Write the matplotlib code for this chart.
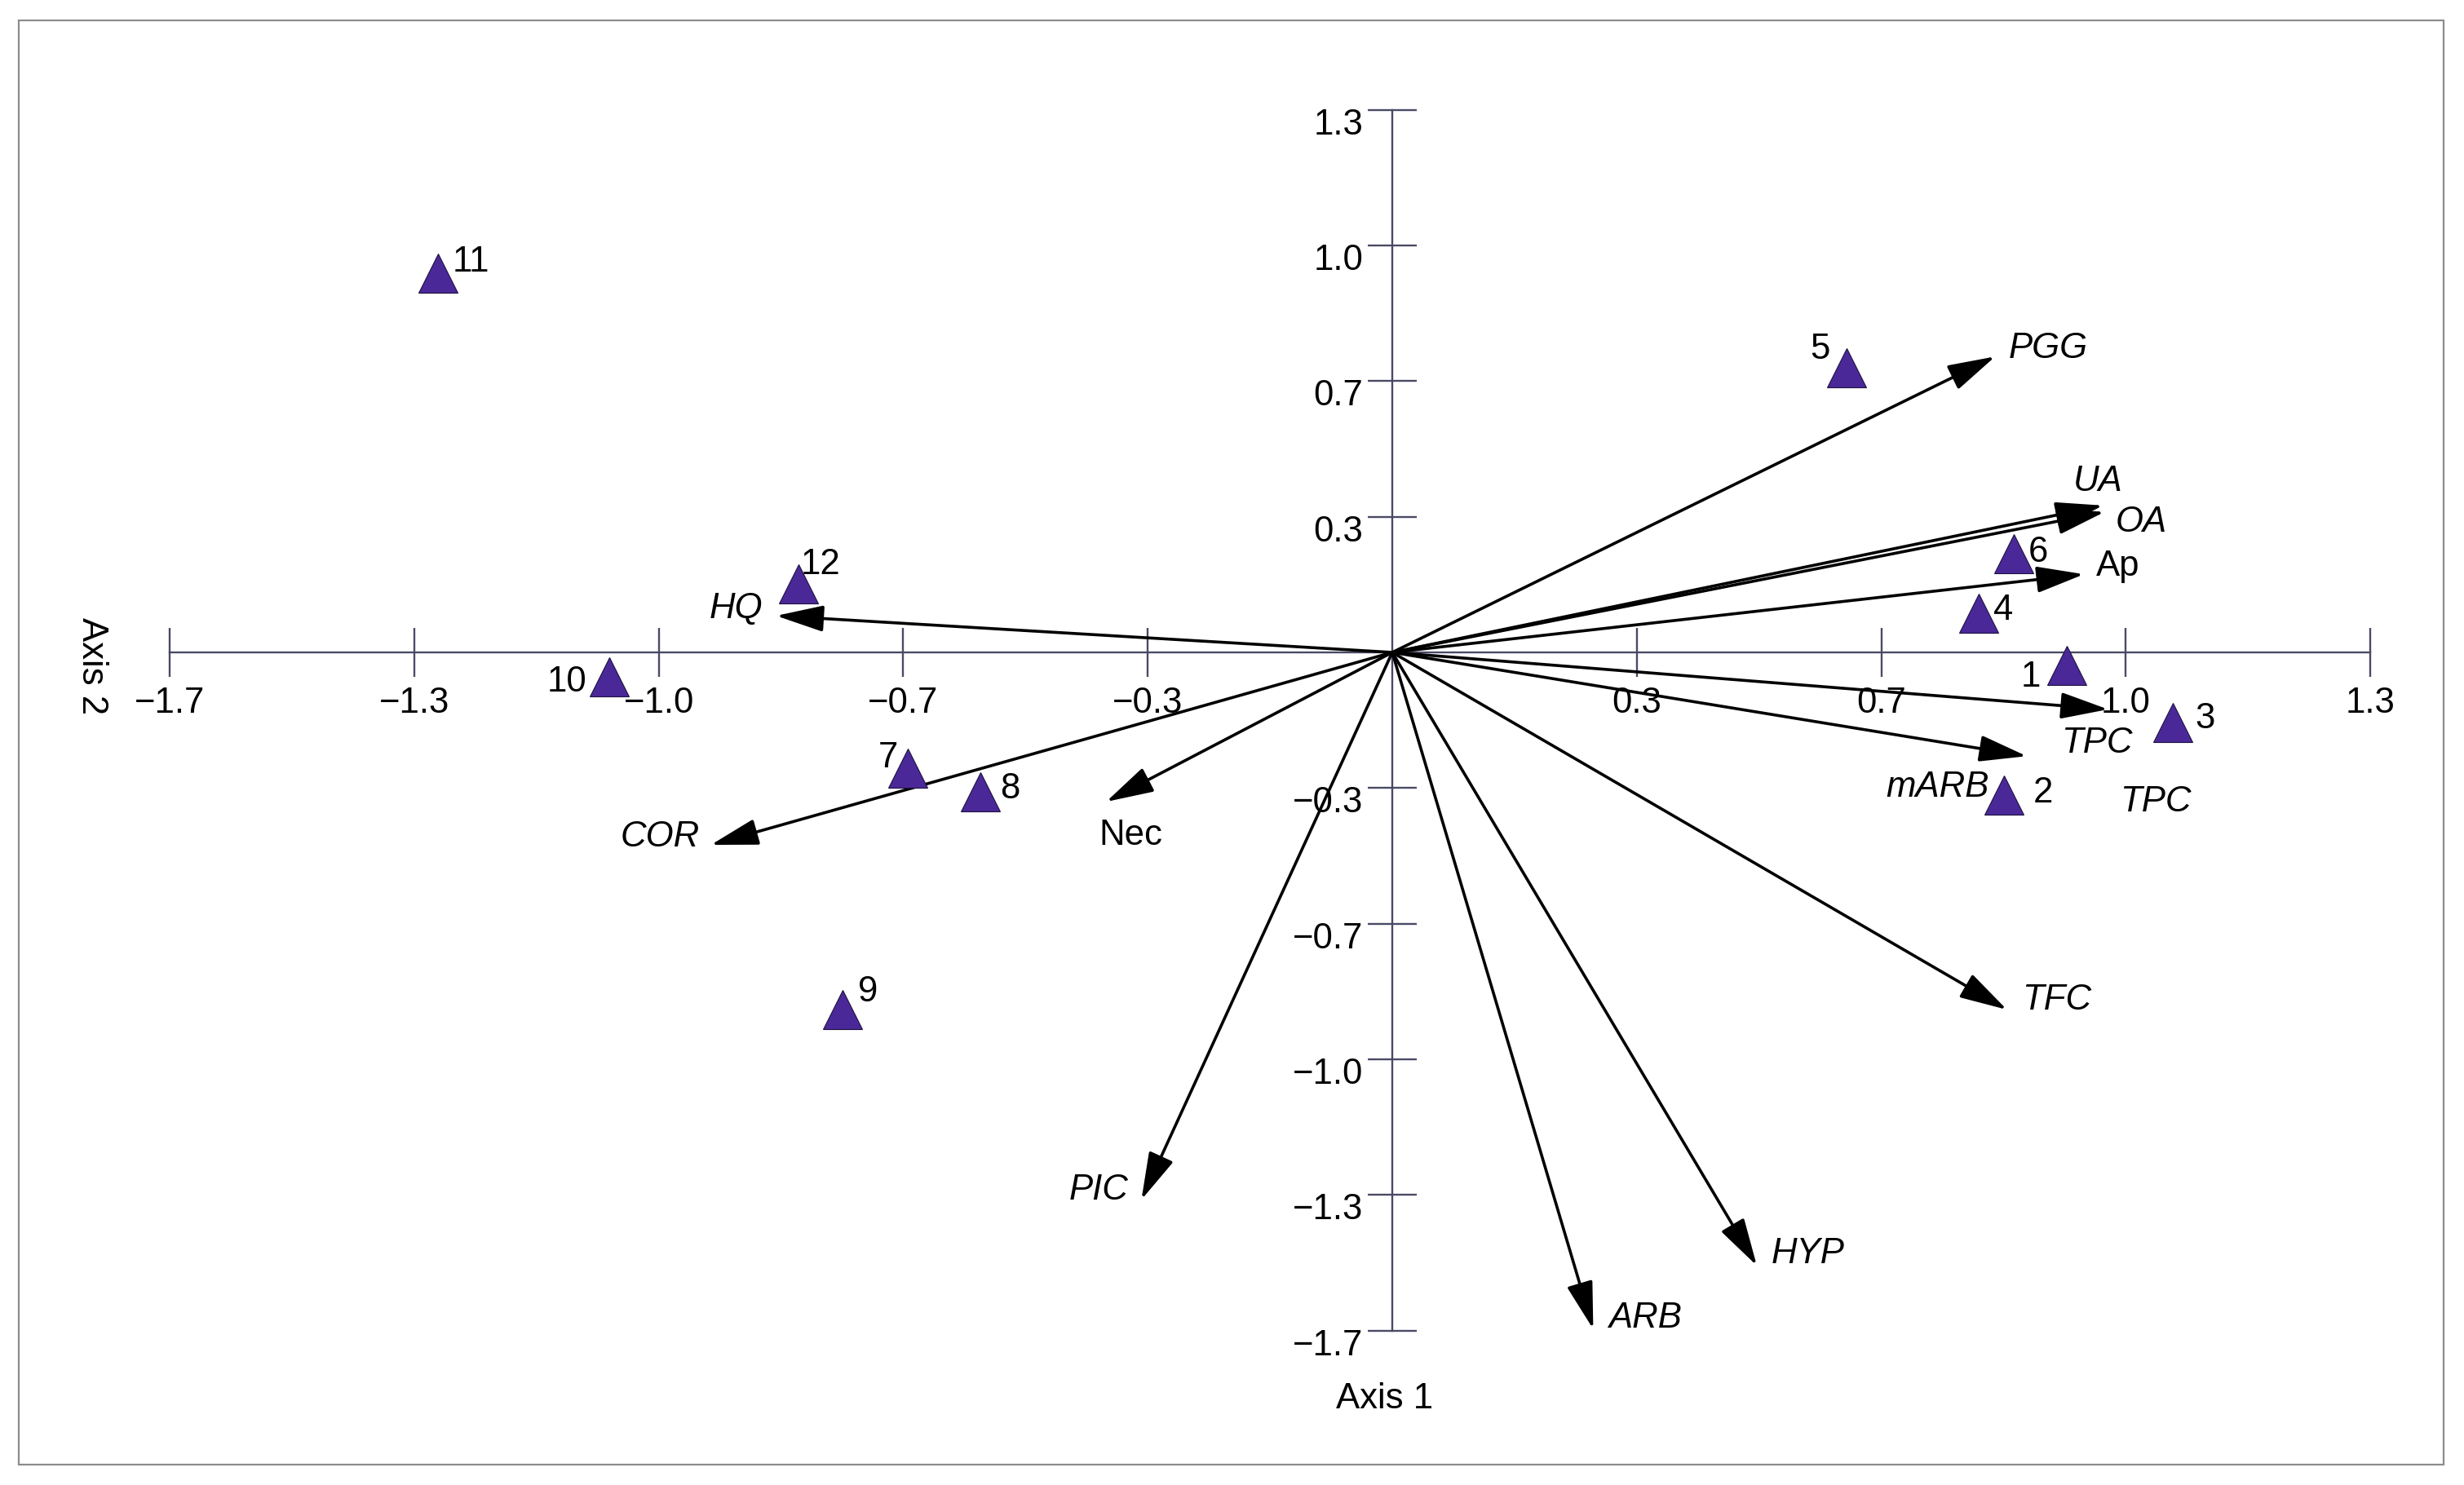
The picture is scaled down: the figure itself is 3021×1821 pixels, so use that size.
import matplotlib
matplotlib.use('Agg')
import matplotlib.pyplot as plt
from matplotlib.patches import Rectangle
from matplotlib.transforms import ScaledTranslation

plt.rcParams['font.family'] = ['Liberation Sans', 'DejaVu Sans']

# sample scores (12 sites)
site_names = ['1', '2', '3', '4', '5', '6', '7', '8', '9', '10', '11', '12']
site_x = [0.920, 0.834, 1.064, 0.799, 0.619, 0.847, -0.660, -0.562, -0.749, -1.067, -1.301, -0.810]
site_y = [-0.033, -0.351, -0.172, 0.097, 0.699, 0.242, -0.285, -0.342, -0.878, -0.060, 0.932, 0.168]

# variable vectors (arrow tips)
var_names = ['PGG', 'UA', 'OA', 'Ap', 'TPC', 'mARB', 'TFC', 'HYP', 'ARB', 'PIC', 'Nec', 'COR', 'HQ']
var_x = [0.822, 0.969, 0.971, 0.943, 0.976, 0.865, 0.838, 0.497, 0.274, -0.342, -0.390, -0.929, -0.840]
var_y = [0.727, 0.361, 0.345, 0.192, -0.140, -0.255, -0.878, -1.507, -1.663, -1.345, -0.367, -0.473, 0.090]
upright_vars = ['Ap', 'Nec']

# stray label in the original figure
extra_names = ['TPC']
extra_x = [1.041]
extra_y = [-0.368]

tick_vals = [k / 3 for k in (-5, -4, -3, -2, -1, 1, 2, 3, 4)]

# label placement (offset pixels from the point / tip)
site_off = [(-45, -14), (48, 3), (40, 4), (31, 3), (-32, 23), (30, 2), (-25, 13),
            (37, 3), (31, 22), (-52, -7), (40, 13), (27, 24)]
var_off = [(65, 10), (-6, 29), (45, -13), (42, 10), (-14, -42), (-109, -38), (61, 12),
           (63, 14), (64, 13), (-52, 12), (30, -41), (-62, 10), (-49, 9)]

axis_col = '#4a4a66'
tri_col = '#4b2897'
fs = 31.5

fig = plt.figure(figsize=(30.21, 18.21), dpi=100)
fig.patch.set_facecolor('white')
ax = fig.add_axes([0, 0, 1, 1])
ax.set_xlim(-1707 / 899.3, (3021 - 1707) / 899.3)
ax.set_ylim(-(1821 - 800) / 499, 800 / 499)
ax.patch.set_alpha(0)

# outer frame
fig.patches.append(Rectangle((23 / 3021, 25 / 1821), 2973 / 3021, 1771 / 1821,
                             transform=fig.transFigure, fill=False,
                             edgecolor='#8c8c8c', linewidth=1.6))

# axes crossing at origin
for side in ['top', 'right']:
    ax.spines[side].set_visible(False)
ax.spines['left'].set_position(('data', 0))
ax.spines['bottom'].set_position(('data', 0))
ax.spines['left'].set_bounds(-5 / 3, 4 / 3)
ax.spines['bottom'].set_bounds(-5 / 3, 4 / 3)
for side in ['left', 'bottom']:
    ax.spines[side].set_color(axis_col)
    ax.spines[side].set_linewidth(1.7)
    ax.spines[side].set_zorder(1)

labels = [f'{v:.1f}'.replace('-', '\u2212') for v in tick_vals]
ax.set_xticks(tick_vals)
ax.set_xticklabels(labels)
ax.set_yticks(tick_vals)
ax.set_yticklabels(labels)
ax.tick_params(axis='both', direction='inout', length=43, width=1.7, color=axis_col,
               labelsize=fs, labelcolor='black')
ax.tick_params(axis='x', pad=9)
ax.tick_params(axis='y', pad=4)
shift = ScaledTranslation(0, -0.14, fig.dpi_scale_trans)
for lab in ax.get_yticklabels():
    lab.set_transform(lab.get_transform() + shift)

# vectors
for name, x, y, (dx, dy) in zip(var_names, var_x, var_y, var_off):
    ax.annotate('', xy=(x, y), xytext=(0, 0),
                arrowprops=dict(arrowstyle='-|>,head_length=1.8,head_width=0.5',
                                mutation_scale=20, color='black', lw=2.6,
                                shrinkA=0, shrinkB=0), zorder=3)
    style = 'normal' if name in upright_vars else 'italic'
    ax.annotate(name, xy=(x, y), xytext=(dx, dy), textcoords='offset pixels',
                ha='center', va='center', fontsize=fs, fontstyle=style)

for name, x, y in zip(extra_names, extra_x, extra_y):
    ax.text(x, y, name, ha='center', va='center', fontsize=fs, fontstyle='italic')

# sites
ax.plot(site_x, site_y, linestyle='none', marker='^', markersize=34.5,
        markerfacecolor=tri_col, markeredgecolor='#1c1240', markeredgewidth=0.8, zorder=4)
for name, x, y, (dx, dy) in zip(site_names, site_x, site_y, site_off):
    ax.annotate(name, xy=(x, y), xytext=(dx, dy), textcoords='offset pixels',
                ha='center', va='center', fontsize=fs)

# axis titles
ax.annotate('Axis 1', xy=(0, -5 / 3), xytext=(-9, -84), textcoords='offset pixels',
            ha='center', va='center', fontsize=fs)
ax.annotate('Axis 2', xy=(-5 / 3, 0), xytext=(-96, -17), textcoords='offset pixels',
            ha='center', va='center', fontsize=fs, rotation=270)

fig.savefig('out.png', dpi=100)
